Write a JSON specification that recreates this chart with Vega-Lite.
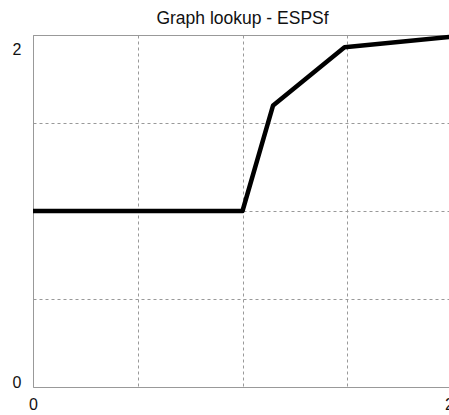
{
  "$schema": "https://vega.github.io/schema/vega-lite/v6.json",
  "autosize": {"type": "none"},
  "padding": {"left": 33, "top": 35, "right": 0, "bottom": 28},
  "width": 419,
  "height": 352,
  "background": "white",
  "title": {
    "text": "Graph lookup - ESPSf",
    "font": "Liberation Sans",
    "fontSize": 17.5,
    "fontWeight": "normal",
    "color": "#111",
    "offset": 7
  },
  "config": {
    "view": {"stroke": "#999", "strokeWidth": 1},
    "axis": {
      "domain": false,
      "ticks": false,
      "grid": true,
      "gridColor": "#999",
      "gridDash": [3, 3],
      "gridWidth": 1,
      "labelFont": "Liberation Sans",
      "labelFontSize": 16,
      "labelColor": "#111",
      "title": null
    }
  },
  "data": {
    "values": [
      {"x": 0, "y": 1},
      {"x": 1.0, "y": 1},
      {"x": 1.146, "y": 1.6},
      {"x": 1.487, "y": 1.93},
      {"x": 2, "y": 1.99}
    ]
  },
  "mark": {"type": "line", "color": "black", "strokeWidth": 4.5, "strokeJoin": "round", "clip": false},
  "encoding": {
    "x": {
      "field": "x",
      "type": "quantitative",
      "scale": {"domain": [0, 2], "nice": false},
      "axis": {
        "values": [0, 0.5, 1, 1.5, 2],
        "labelExpr": "datum.value == 0 ? '0' : datum.value == 2 ? '2' : ''",
        "labelPadding": 9,
        "labelFlush": false,
        "labelOffset": {"condition": {"test": "datum.value == 2", "value": -3}, "value": 0}
      }
    },
    "y": {
      "field": "y",
      "type": "quantitative",
      "scale": {"domain": [0, 2], "nice": false},
      "axis": {
        "values": [0, 0.5, 1, 1.5, 2],
        "labelExpr": "datum.value == 0 ? '0' : datum.value == 2 ? '2' : ''",
        "labelPadding": 12,
        "labelFlush": false,
        "labelOffset": {"condition": {"test": "datum.value == 2", "value": 14}, "value": -5}
      }
    }
  }
}
